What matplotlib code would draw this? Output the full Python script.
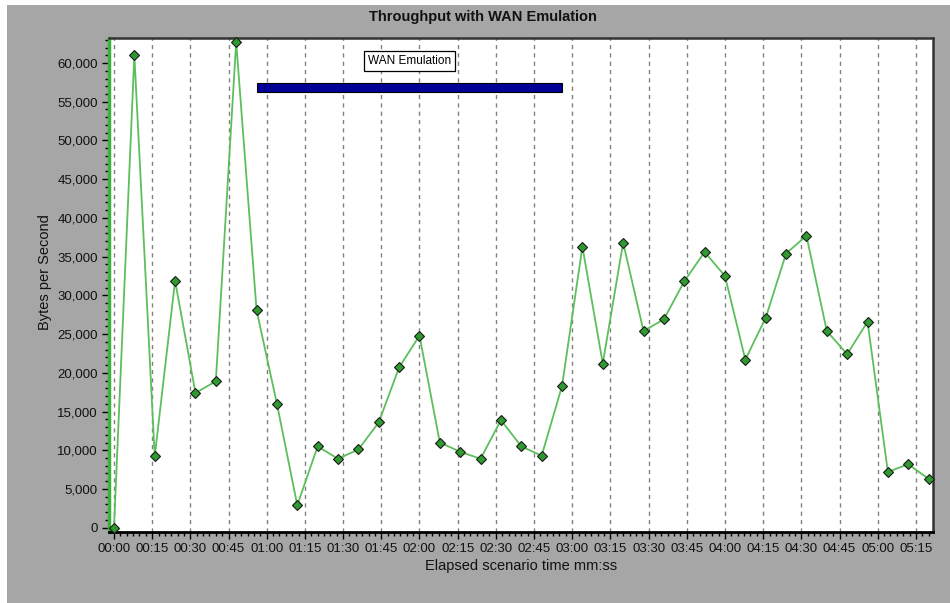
import matplotlib
matplotlib.use("Agg")
import matplotlib.pyplot as plt
from matplotlib.ticker import MultipleLocator, FuncFormatter
from matplotlib.patches import Rectangle

# Throughput samples, one every 8 seconds of elapsed scenario time
elapsed_s = [0, 8, 16, 24, 32, 40, 48, 56, 64, 72, 80, 88, 96, 104, 112, 120,
             128, 136, 144, 152, 160, 168, 176, 184, 192, 200, 208, 216, 224,
             232, 240, 248, 256, 264, 272, 280, 288, 296, 304, 312, 320]
bytes_per_sec = [0, 61000, 9200, 31900, 17400, 18900, 62700, 28100, 16000, 2900,
                 10500, 8900, 10100, 13600, 20700, 24800, 11000, 9800, 8900,
                 13900, 10500, 9300, 18300, 36300, 21200, 36800, 25400, 26900,
                 31800, 35600, 32500, 21700, 27100, 35400, 37700, 25400, 22400,
                 26600, 7200, 8200, 6300]

# Window during which WAN emulation was active
wan_start_s = 56
wan_end_s = 176
wan_level = 56800
wan_label = "WAN Emulation"

title = "Throughput with WAN Emulation"
x_label = "Elapsed scenario time mm:ss"
y_label = "Bytes per Second"

W, H = 950, 603
fig = plt.figure(figsize=(W / 100, H / 100), dpi=100, facecolor="white")
plt.rcParams["font.family"] = ["Liberation Sans", "DejaVu Sans"]

# gray panel behind the chart (thin white margin on top/left)
fig.patches.append(Rectangle((7 / W, 0), 1 - 7 / W, 1 - 5 / H,
                             transform=fig.transFigure, facecolor="#a6a6a6",
                             edgecolor="none", zorder=-10))

ax = fig.add_axes([109 / W, (H - 531.7) / H, (932.7 - 109) / W, (531.7 - 37.7) / H])
ax.set_facecolor("white")

ax.plot(elapsed_s, bytes_per_sec, color="#5cbf5c", lw=1.3, zorder=3,
        marker="D", markersize=5, markerfacecolor="#2f9a2f",
        markeredgecolor="#1a1a1a", markeredgewidth=0.8, clip_on=False)

ax.barh(wan_level, wan_end_s - wan_start_s, left=wan_start_s, height=1150,
        color="#000099", edgecolor="black", linewidth=0.8, zorder=4)
ax.text((wan_start_s + wan_end_s) / 2, 60250, wan_label, ha="center", va="center",
        fontsize=8.5, zorder=5,
        bbox=dict(boxstyle="square,pad=0.35", facecolor="white",
                  edgecolor="black", linewidth=0.9))

ax.set_xlim(-1.96, 321.6)
ax.set_ylim(-516, 63270)

ax.xaxis.set_major_locator(MultipleLocator(15))
ax.xaxis.set_minor_locator(MultipleLocator(2.5))
ax.xaxis.set_major_formatter(FuncFormatter(lambda v, p: f"{int(v) // 60:02d}:{int(v) % 60:02d}"))
ax.yaxis.set_major_locator(MultipleLocator(5000))
ax.yaxis.set_minor_locator(MultipleLocator(1000))
ax.yaxis.set_major_formatter(FuncFormatter(lambda v, p: f"{int(v):,}"))

ax.tick_params(axis="both", which="major", direction="out", length=5, width=1,
               color="black", labelsize=9.5, labelcolor="#111111", pad=3)
ax.tick_params(axis="both", which="minor", direction="out", length=3, width=1,
               color="black")

ax.grid(axis="x", which="major", color="#808080", linestyle=(0, (3, 3)), lw=1)
ax.set_axisbelow(True)

ax.spines["left"].set_color("#3cb03c")
ax.spines["left"].set_linewidth(2.5)
ax.spines["bottom"].set_color("black")
ax.spines["bottom"].set_linewidth(2)
for s in ("top", "right"):
    ax.spines[s].set_color("#333333")
    ax.spines[s].set_linewidth(1.8)

ax.set_xlabel(x_label, fontsize=10.5, color="#111111", labelpad=3)
fig.text(45 / W, 1 - 272 / H, y_label, rotation=90, ha="center", va="center",
         fontsize=10.5, color="#111111")
fig.text(483 / W, 1 - 17.5 / H, title, ha="center", va="center",
         fontsize=10.5, fontweight="bold", color="#111111")

fig.savefig("out.png", dpi=100, facecolor=fig.get_facecolor())
